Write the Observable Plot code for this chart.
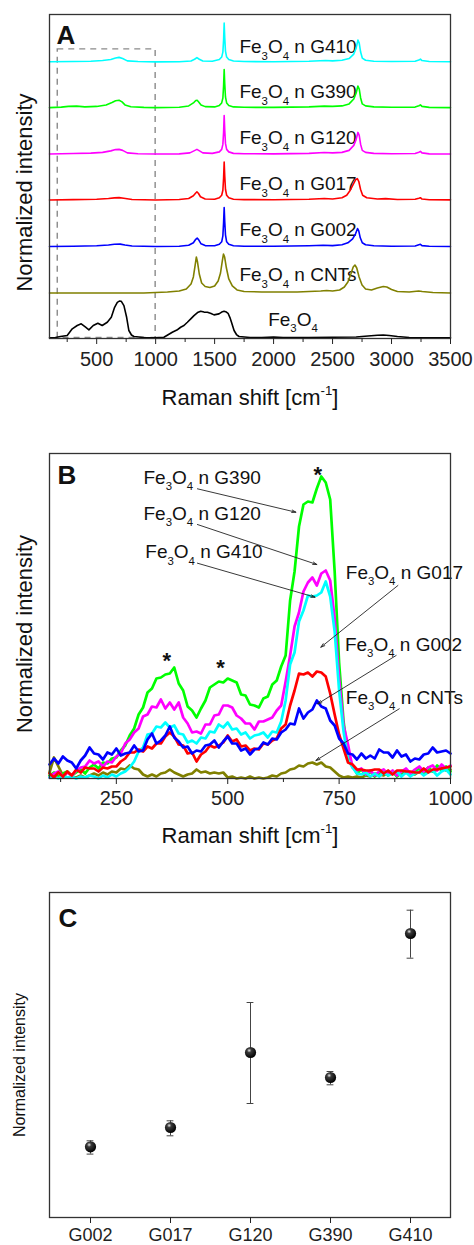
<!DOCTYPE html>
<html><head><meta charset="utf-8">
<script src="https://cdn.jsdelivr.net/npm/d3@7"></script>
<script src="https://cdn.jsdelivr.net/npm/@observablehq/plot@0.6"></script>
<style>body{margin:0;background:#fff;} #chart{width:474px;} svg{display:block;}</style>
</head><body><div id="chart"></div>
<script>
// ---------- Panel A data ----------
const seriesA = ["Fe3O4", "CNTs", "G002", "G017", "G120", "G390", "G410"];
const colorsA = ["#000000", "#808000", "#0000ff", "#ff0000", "#ff00ff", "#00ff00", "#00ffff"];
const offsetsA = [0, 45.7, 92, 138.7, 184.7, 231.3, 277.3];
const specFe3O4 = [[100,0.7],[150,1],[193,2],[250,3],[293,9.7],[335,13],[369,14.7],[406,11.3],[434,8.7],[471,13],[510,15.3],[547,13],[590,16.3],[624,21.3],[652,31.3],[675,36.3],[692,37.5],[709,37.3],[731,33],[754,21.3],[773,8],[795,3.5],[816,2],[900,1],[986,0.7],[1070,1.3],[1141,6.3],[1180,8.5],[1212,11.3],[1240,13],[1269,16.3],[1300,20],[1325,23],[1355,26],[1382,27.3],[1410,26.5],[1439,26.3],[1470,25],[1495,23.7],[1537,24.7],[1560,26.5],[1580,27.3],[1600,26.5],[1614,25.3],[1630,21],[1643,16.3],[1665,8],[1685,4],[1707,2],[1800,1],[1900,1],[2000,1.5],[2080,1],[2300,1],[2500,1.2],[2700,1.5],[2800,2.5],[2880,3.2],[2930,3.5],[2980,3],[3050,2],[3150,1],[3300,0.8],[3500,0.7]];
const specCNTs = [[100,0],[500,0],[900,0],[1000,0.5],[1100,1],[1200,2],[1260,4],[1300,9],[1320,16],[1335,28],[1345,36],[1355,31],[1370,19],[1390,10],[1420,6.5],[1460,5.5],[1500,7],[1530,12],[1550,20],[1565,32],[1575,39],[1585,36],[1600,25],[1620,14],[1650,7],[1690,3],[1750,1.5],[1900,1],[2200,1],[2400,2],[2450,2.5],[2500,2],[2560,3],[2600,6],[2630,11],[2655,19],[2675,26],[2690,28],[2705,25],[2725,16],[2750,8],[2780,4],[2830,3],[2880,5],[2930,6.5],[2960,6],[3000,3.5],[3050,1.5],[3150,1],[3230,2],[3260,1.5],[3350,0.5],[3500,0]];
const specG002 = [[100,0.3],[300,0.5],[500,1],[600,1.8],[650,2.5],[700,2.7],[740,1.8],[800,0.8],[1000,0.3],[1200,0.6],[1280,1.5],[1320,4],[1340,7.5],[1352,8.7],[1365,7],[1385,3],[1420,1.2],[1500,1],[1540,2.5],[1560,5],[1570,11],[1576,24],[1581,39.3],[1586,25],[1592,12],[1602,5],[1620,2.5],[1660,1],[1750,0.6],[2000,0.5],[2300,1],[2420,1.5],[2500,1.2],[2580,2],[2630,4],[2670,8],[2695,13],[2712,18.3],[2722,16],[2735,9],[2752,4],[2780,2],[2850,1],[3000,0.6],[3200,0.8],[3232,2],[3245,2.5],[3258,1.2],[3320,0.5],[3500,0.3]];
const specG017 = [[100,0.3],[300,0.6],[500,1],[600,1.8],[650,2.4],[690,2.6],[730,2],[800,0.8],[1000,0.3],[1200,0.7],[1280,1.8],[1320,4.5],[1338,7],[1350,8.3],[1362,7],[1380,3.5],[1420,1.3],[1500,1],[1540,2.5],[1560,5],[1570,10],[1576,22],[1581,38.3],[1586,24],[1592,11],[1602,5],[1620,2.5],[1660,1],[1750,0.6],[2000,0.5],[2300,1],[2430,1.8],[2500,1.3],[2580,2.5],[2620,5],[2650,10],[2675,16],[2695,20.5],[2710,21.6],[2722,19],[2737,11],[2755,5],[2790,2.5],[2880,1.2],[2950,1.6],[3050,0.8],[3200,1],[3232,2],[3245,2.5],[3258,1.2],[3320,0.5],[3500,0.4]];
const specG120 = [[100,0.3],[300,0.8],[450,1.2],[550,2],[620,3.5],[660,4.8],[690,5],[720,4],[760,1.5],[850,0.6],[1000,0.4],[1200,0.5],[1290,1.5],[1325,3.5],[1350,5],[1372,3.5],[1400,1.5],[1480,1],[1540,2.5],[1560,5],[1570,10],[1576,22],[1581,39],[1586,24],[1592,11],[1602,5],[1620,2.5],[1660,1],[1750,0.6],[2000,0.5],[2300,1],[2430,1.8],[2500,1.5],[2580,2],[2640,4],[2680,9],[2700,15],[2715,22],[2726,19],[2738,10],[2752,4],[2780,2],[2850,1],[3000,0.6],[3200,0.8],[3232,2.2],[3245,3],[3258,1.5],[3320,0.5],[3500,0.3]];
const specG390 = [[100,0.3],[200,0.8],[260,1.5],[330,1.8],[400,1],[500,1.5],[580,3],[630,5.5],[660,7.2],[690,7.7],[715,6],[740,3],[790,1.2],[900,0.5],[1000,0.3],[1200,0.6],[1280,2],[1320,5],[1340,7.5],[1352,7.7],[1365,6],[1385,3],[1420,1.3],[1500,1],[1540,2.5],[1560,5],[1570,10],[1576,22],[1581,38.5],[1586,24],[1592,11],[1602,5],[1620,2.5],[1660,1],[1750,0.6],[2000,0.5],[2300,1],[2430,1.8],[2500,1.5],[2580,2],[2640,4],[2680,9],[2700,15],[2715,22],[2726,19],[2738,10],[2752,4],[2780,2],[2850,1],[3000,0.6],[3200,0.8],[3232,2.2],[3245,3],[3258,1.5],[3320,0.5],[3500,0.3]];
const specG410 = [[100,0.3],[300,0.5],[450,0.8],[550,1.5],[620,2.5],[660,4],[690,4.7],[720,3.5],[760,1.2],[850,0.5],[1000,0.2],[1200,0.3],[1300,1],[1330,2.8],[1350,4.5],[1370,2.8],[1400,1],[1480,0.8],[1540,2.5],[1560,5],[1570,10],[1576,22],[1581,39],[1586,24],[1592,11],[1602,5],[1620,2.5],[1660,1],[1750,0.5],[2000,0.3],[2300,0.8],[2440,1.5],[2500,1.2],[2580,1.8],[2640,3.5],[2680,8],[2700,14],[2715,22],[2726,19],[2738,10],[2752,4],[2780,1.8],[2850,0.8],[3000,0.5],[3200,0.8],[3232,2],[3245,3],[3258,1.5],[3320,0.5],[3500,0.3]];
const spectraA = [specFe3O4, specCNTs, specG002, specG017, specG120, specG390, specG410];
const labelTextA = ["Fe_3O_4", "Fe_3O_4 n CNTs", "Fe_3O_4 n G002", "Fe_3O_4 n G017", "Fe_3O_4 n G120", "Fe_3O_4 n G390", "Fe_3O_4 n G410"];
const labelXA = [1954, 1710, 1710, 1710, 1710, 1710, 1710];
const labelYA = [13, 58, 103, 148.7, 194.7, 241.3, 286.3];
const majorTicksA = [500, 1000, 1500, 2000, 2500, 3000, 3500];
const minorTicksA = [250, 750, 1250, 1750, 2250, 2750, 3250];
const zoomBoxA = {from: 170, to: 1000, bottom: 0.6, top: 290};

// ---------- Panel B data ----------
const ramanB = [100,110,120,130,140,150,160,170,180,190,200,210,220,230,240,250,260,270,280,290,300,310,320,330,340,350,360,370,380,390,400,410,420,430,440,450,460,470,480,490,500,510,520,530,540,550,560,570,580,590,600,610,620,630,640,650,660,670,680,690,700,710,720,730,740,750,760,770,780,790,800,810,820,830,840,850,860,870,880,890,900,910,920,930,940,950,960,970,980,990,1000];
const bCNTs = [6,21,12,3,1,2,1,3,1,3, 5,3,6,4,7,6,10,9,13,10, 9,4,2,4,2,5,6,9,6,4, 2,4,5,9,6,7,5,6,5,6, 1,2,0,1,0,2,0,1,0,1, 3,2,5,6,9,10,13,12,15,16, 14,16,12,11,7,3,1,2,1,2, 1,3,2,5,4,3,6,5,6,4, 6,5,4,7,6,9,7,9,11,8, 9];
const bG390 = [3,6,2,5,7,3,6,9,5,11, 14,10,16,15,20,21,28,33,43,50, 64,71,86,90,100,101,104,105,111,95, 88,72,68,61,70,78,91,94,97,96, 100,98,96,84,83,74,73,71,80,82, 94,98,112,123,178,207,252,274,277,276, 290,302,296,279,207,116,57,23,13,5, 9,3,7,2,6,8,3,7,2,6, 9,3,7,10,6,11,7,13,8,12, 7];
const bG120 = [1,5,7,2,6,3,8,11,12,18, 15,17,12,17,16,22,25,35,39,46, 50,62,64,72,71,79,70,76,69,76, 61,55,46,47,45,54,54,63,64,73, 73,71,63,60,55,55,49,57,57,59, 61,68,73,97,123,152,166,187,196,201, 193,205,208,198,160,100,53,34,11,8, 10,4,8,3,7,9,4,8,3,7, 10,5,9,12,7,11,13,8,14,10, 13];
const bG410 = [1,2,0,3,1,2,0,2,1,3, 2,0,3,1,4,2,5,7,11,17, 27,31,44,45,52,51,56,51,53,45, 44,36,38,35,41,40,47,46,54,51, 56,49,50,44,46,40,43,44,46,41, 47,46,57,78,114,126,157,168,183,182, 183,186,197,182,147,88,47,19,11,5, 4,6,2,5,2,6,3,5,7,2, 6,2,5,7,3,6,8,3,7,9, 4];
const bG017 = [5,1,6,2,7,3,9,6,11,10, 10,7,11,10,12,12,17,20,26,26, 29,27,32,30,35,35,42,46,42,34, 33,25,26,17,24,27,33,31,33,36, 43,37,39,32,33,28,30,29,35,34, 38,40,50,54,73,88,105,104,106,102, 107,106,102,85,64,44,30,16,14,9, 9,8,8,9,9,5,8,4,8,8, 7,7,6,6,10,6,9,9,10,11, 12];
const bG002 = [14,20,15,22,18,16,10,18,23,31, 25,24,19,26,24,30,23,25,26,33, 27,28,39,45,35,38,43,52,41,37, 31,32,25,28,27,33,34,38,31,37, 42,35,35,28,30,24,29,30,36,34, 40,39,46,49,55,54,70,60,66,69, 78,72,70,58,53,40,35,25,24,19, 25,20,23,20,29,26,26,21,28,22, 24,17,20,19,24,25,31,26,27,28, 25];
const seriesB = ["CNTs", "G390", "G120", "G410", "G017", "G002"];
const colorsB = ["#808000", "#00ff00", "#ff00ff", "#00ffff", "#ff0000", "#0000ff"];
const valuesB = [bCNTs, bG390, bG120, bG410, bG017, bG002];
const labelTextB = ["Fe_3O_4 n G390", "Fe_3O_4 n G120", "Fe_3O_4 n G410", "Fe_3O_4 n G017", "Fe_3O_4 n G002", "Fe_3O_4 n CNTs"];
const labelXB = [311, 311, 315, 765, 763, 765];
const labelYB = [295, 259, 220.5, 200, 128, 75];
const arrowFromXB = [432, 432, 432, 882, 878, 885];
const arrowFromYB = [289.7, 254, 215.3, 193, 123, 69.7];
const arrowToXB = [653, 700, 696, 709, 702, 698];
const arrowToYB = [266.3, 214, 181.3, 131.3, 74.7, 18];
const starXB = [702, 363, 484];
const starYB = [310, 124, 117];
const majorTicksB = [250, 500, 750, 1000];
const minorTicksB = [125, 375, 625, 875];

// ---------- Panel C data ----------
const samplesC = ["G002", "G017", "G120", "G390", "G410"];
const meanC = [70.7, 90, 165, 140, 284];
const lowC = [63.4, 81.7, 114, 132.7, 259.3];
const highC = [76.7, 96.7, 215, 146, 307.3];

// ---------- helpers ----------
const FONT = "'Liberation Sans', Arial, Helvetica, sans-serif";
const INK = "#111";
function richText(svg) {
  svg.querySelectorAll("text").forEach(t => {
    const s = t.textContent;
    if (!/[_^]/.test(s)) return;
    const fs = parseFloat(getComputedStyle(t).fontSize) || 16;
    const parts = s.split(/(_\{[^}]*\}|\^\{[^}]*\}|_[^{]|\^[^{])/).filter(p => p !== "");
    while (t.firstChild) t.removeChild(t.firstChild);
    let shift = 0;
    for (const p of parts) {
      const ts = document.createElementNS("http://www.w3.org/2000/svg", "tspan");
      let content = p, target = 0, small = false;
      if (p[0] === "_" || p[0] === "^") {
        content = p[1] === "{" ? p.slice(2, -1) : p.slice(1);
        target = p[0] === "_" ? fs * 0.36 : -fs * 0.42;
        small = true;
      }
      const d = target - shift;
      if (d) ts.setAttribute("dy", d);
      shift = target;
      if (small) ts.setAttribute("font-size", fs * 0.6);
      ts.textContent = content;
      t.appendChild(ts);
    }
  });
}
const baseStyle = {fontFamily: FONT, background: "#fff", color: "#222", overflow: "visible"};

// ---------- Panel A ----------
const rowsA = [];
seriesA.forEach((name, i) => spectraA[i].forEach(([x, h]) => rowsA.push({series: name, x, y: h + offsetsA[i]})));
const labelsA = labelTextA.map((t, i) => ({text: t, x: labelXA[i], y: labelYA[i]}));
const plotA = Plot.plot({
  width: 474, height: 420, marginLeft: 49, marginRight: 24, marginTop: 14, marginBottom: 82,
  style: baseStyle,
  x: {domain: [100, 3500]}, y: {domain: [0, 325], axis: null},
  color: {domain: seriesA, range: colorsA},
  marks: [
    Plot.rect([zoomBoxA], {x1: "from", x2: "to", y1: "bottom", y2: "top", fill: "none", stroke: "#8a8a8a", strokeWidth: 1.4, strokeDasharray: "6,5"}),
    Plot.text(labelsA, {x: "x", y: "y", text: "text", textAnchor: "start", lineAnchor: "bottom", fontSize: 19, fill: INK}),
    Plot.line(rowsA, {x: "x", y: "y", z: "series", stroke: "series", strokeWidth: 1.6}),
    Plot.frame({stroke: "#333", strokeWidth: 1.3}),
    Plot.axisX({ticks: majorTicksA, tickSize: 6, tickPadding: 7, fontSize: 20, tickFormat: d => String(d), label: null}),
    Plot.axisX({ticks: minorTicksA, tickSize: 4, tickFormat: () => "", label: null}),
    Plot.text(["A"], {frameAnchor: "top-left", dx: 7, dy: 11, lineAnchor: "top", fontSize: 26, fontWeight: "bold", fill: INK}),
    Plot.text(["Normalized intensity"], {frameAnchor: "left", dx: -25, dy: 16, rotate: -90, textAnchor: "middle", fontSize: 22, fill: INK}),
    Plot.text(["Raman shift [cm^{-1}]"], {frameAnchor: "bottom", dy: 66, textAnchor: "middle", fontSize: 22, fill: INK})
  ]
});

// ---------- Panel B ----------
const rowsB = [];
seriesB.forEach((name, i) => ramanB.forEach((x, j) => rowsB.push({series: name, x, y: valuesB[i][j]})));
const labelsB = labelTextB.map((t, i) => ({text: t, x: labelXB[i], y: labelYB[i]}));
const arrowsB = arrowFromXB.map((x1, i) => ({x1, y1: arrowFromYB[i], x2: arrowToXB[i], y2: arrowToYB[i]}));
const starsB = starXB.map((x, i) => ({x, y: starYB[i]}));
const plotB = Plot.plot({
  width: 474, height: 440, marginLeft: 49, marginRight: 24, marginTop: 33, marginBottom: 82,
  style: baseStyle,
  x: {domain: [100, 1000]}, y: {domain: [0, 325], axis: null},
  color: {domain: seriesB, range: colorsB},
  marks: [
    Plot.line(rowsB, {x: "x", y: "y", z: "series", stroke: "series", strokeWidth: 2.7}),
    Plot.arrow(arrowsB, {x1: "x1", y1: "y1", x2: "x2", y2: "y2", stroke: "#222", strokeWidth: 0.9, headLength: 7, headAngle: 35}),
    Plot.text(labelsB, {x: "x", y: "y", text: "text", textAnchor: "start", lineAnchor: "bottom", fontSize: 19, fill: INK}),
    Plot.text(starsB, {x: "x", y: "y", text: () => "*", fontSize: 22, fontWeight: "bold", dy: 6, fill: INK}),
    Plot.frame({stroke: "#333", strokeWidth: 1.3}),
    Plot.axisX({ticks: majorTicksB, tickSize: 6, tickPadding: 6, fontSize: 20, tickFormat: d => String(d), label: null}),
    Plot.axisX({ticks: minorTicksB, tickSize: 4, tickFormat: () => "", label: null}),
    Plot.text(["B"], {frameAnchor: "top-left", dx: 8, dy: 12, lineAnchor: "top", fontSize: 26, fontWeight: "bold", fill: INK}),
    Plot.text(["Normalized intensity"], {frameAnchor: "left", dx: -25, dy: 18, rotate: -90, textAnchor: "middle", fontSize: 22, fill: INK}),
    Plot.text(["Raman shift [cm^{-1}]"], {frameAnchor: "bottom", dy: 64, textAnchor: "middle", fontSize: 22, fill: INK})
  ]
});

// ---------- Panel C ----------
const dataC = samplesC.map((s, i) => ({sample: s, mean: meanC[i], lo: lowC[i], hi: highC[i]}));
const plotC = Plot.plot({
  width: 474, height: 385, marginLeft: 49, marginRight: 24, marginTop: 32, marginBottom: 28,
  style: baseStyle,
  x: {type: "band", domain: samplesC, padding: 0}, y: {domain: [0, 325], axis: null},
  marks: [
    Plot.frame({stroke: "#333", strokeWidth: 1.3}),
    Plot.ruleX(dataC, {x: "sample", y1: "lo", y2: "hi", stroke: "#444", strokeWidth: 1}),
    Plot.tickY(dataC, {x: "sample", y: "lo", insetLeft: 36.6, insetRight: 36.6, stroke: "#444", strokeWidth: 1}),
    Plot.tickY(dataC, {x: "sample", y: "hi", insetLeft: 36.6, insetRight: 36.6, stroke: "#444", strokeWidth: 1}),
    Plot.dot(dataC, {x: "sample", y: "mean", r: 5.6, fill: "#000"}),
    Plot.axisX({tickSize: 6, tickPadding: 5, fontSize: 18, label: null}),
    Plot.text(["C"], {frameAnchor: "top-left", dx: 9, dy: 16, lineAnchor: "top", fontSize: 26, fontWeight: "bold", fill: INK}),
    Plot.text(["Normalized intensity"], {frameAnchor: "left", dx: -30, dy: 10, rotate: -90, textAnchor: "middle", fontSize: 16, fill: INK})
  ]
});

const root = document.getElementById("chart");
[plotA, plotB, plotC].forEach(p => { root.appendChild(p); richText(p); });

// sphere shading for panel C dots
const defs = d3.select(plotC).insert("defs", ":first-child");
const grad = defs.append("radialGradient").attr("id", "sphereC").attr("cx", "38%").attr("cy", "32%").attr("r", "68%");
grad.append("stop").attr("offset", "0%").attr("stop-color", "#e6e6e6");
grad.append("stop").attr("offset", "28%").attr("stop-color", "#3a3a3a");
grad.append("stop").attr("offset", "100%").attr("stop-color", "#000");
d3.select(plotC).selectAll('g[aria-label="dot"] circle').attr("fill", "url(#sphereC)");
</script></body></html>
